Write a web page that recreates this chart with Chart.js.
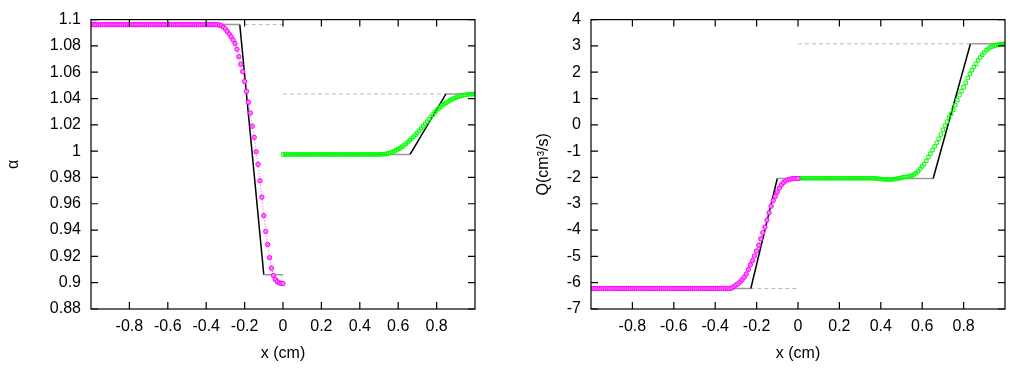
<!DOCTYPE html>
<html>
<head>
<meta charset="utf-8">
<script src="https://cdn.jsdelivr.net/npm/chart.js@4.4.0/dist/chart.umd.min.js"></script>
<style>
  body { margin: 0; background: #fff; }
  .box { position: absolute; top: 0; height: 369px; }
</style>
</head>
<body>
<div class="box" style="left:0;width:500px"><canvas id="alphaChart" width="500" height="369"></canvas></div>
<div class="box" style="left:500px;width:521px"><canvas id="qChart" width="521" height="369"></canvas></div>
<script>
// grid points (cm)
var xNeg = [
  -1.00, -0.99, -0.98, -0.97, -0.96, -0.95, -0.94, -0.93, -0.92, -0.91,
  -0.90, -0.89, -0.88, -0.87, -0.86, -0.85, -0.84, -0.83, -0.82, -0.81,
  -0.80, -0.79, -0.78, -0.77, -0.76, -0.75, -0.74, -0.73, -0.72, -0.71,
  -0.70, -0.69, -0.68, -0.67, -0.66, -0.65, -0.64, -0.63, -0.62, -0.61,
  -0.60, -0.59, -0.58, -0.57, -0.56, -0.55, -0.54, -0.53, -0.52, -0.51,
  -0.50, -0.49, -0.48, -0.47, -0.46, -0.45, -0.44, -0.43, -0.42, -0.41,
  -0.40, -0.39, -0.38, -0.37, -0.36, -0.35, -0.34, -0.33, -0.32, -0.31,
  -0.30, -0.29, -0.28, -0.27, -0.26, -0.25, -0.24, -0.23, -0.22, -0.21,
  -0.20, -0.19, -0.18, -0.17, -0.16, -0.15, -0.14, -0.13, -0.12, -0.11,
  -0.10, -0.09, -0.08, -0.07, -0.06, -0.05, -0.04, -0.03, -0.02, -0.01,
  0.00
];
var xPos = [
  0.00, 0.01, 0.02, 0.03, 0.04, 0.05, 0.06, 0.07, 0.08, 0.09,
  0.10, 0.11, 0.12, 0.13, 0.14, 0.15, 0.16, 0.17, 0.18, 0.19,
  0.20, 0.21, 0.22, 0.23, 0.24, 0.25, 0.26, 0.27, 0.28, 0.29,
  0.30, 0.31, 0.32, 0.33, 0.34, 0.35, 0.36, 0.37, 0.38, 0.39,
  0.40, 0.41, 0.42, 0.43, 0.44, 0.45, 0.46, 0.47, 0.48, 0.49,
  0.50, 0.51, 0.52, 0.53, 0.54, 0.55, 0.56, 0.57, 0.58, 0.59,
  0.60, 0.61, 0.62, 0.63, 0.64, 0.65, 0.66, 0.67, 0.68, 0.69,
  0.70, 0.71, 0.72, 0.73, 0.74, 0.75, 0.76, 0.77, 0.78, 0.79,
  0.80, 0.81, 0.82, 0.83, 0.84, 0.85, 0.86, 0.87, 0.88, 0.89,
  0.90, 0.91, 0.92, 0.93, 0.94, 0.95, 0.96, 0.97, 0.98, 0.99,
  1.00
];

// alpha, numerical (magenta x<0, green x>0)
var alphaNeg = [
  1.0962, 1.0962, 1.0962, 1.0962, 1.0962, 1.0962, 1.0962, 1.0962, 1.0962, 1.0962,
  1.0962, 1.0962, 1.0962, 1.0962, 1.0962, 1.0962, 1.0962, 1.0962, 1.0962, 1.0962,
  1.0962, 1.0962, 1.0962, 1.0962, 1.0962, 1.0962, 1.0962, 1.0962, 1.0962, 1.0962,
  1.0962, 1.0962, 1.0962, 1.0962, 1.0962, 1.0962, 1.0962, 1.0962, 1.0962, 1.0962,
  1.0962, 1.0962, 1.0962, 1.0962, 1.0962, 1.0962, 1.0962, 1.0962, 1.0962, 1.0962,
  1.0962, 1.0962, 1.0962, 1.0962, 1.0962, 1.0962, 1.0962, 1.0962, 1.0962, 1.0962,
  1.0962, 1.0962, 1.0962, 1.0962, 1.0962, 1.0962, 1.0961, 1.0958, 1.0952, 1.0942,
  1.0929, 1.0910, 1.0890, 1.0870, 1.0846, 1.0818, 1.0775, 1.0718, 1.0660, 1.0605,
  1.0530, 1.0455, 1.0372, 1.0290, 1.0190, 1.0105, 0.9995, 0.9900, 0.9775, 0.9650,
  0.9510, 0.9390, 0.9290, 0.9190, 0.9110, 0.9055, 0.9025, 0.9008, 0.8999, 0.8995,
  0.8993
];
var alphaPos = [
  0.9975, 0.9975, 0.9975, 0.9975, 0.9975, 0.9975, 0.9975, 0.9975, 0.9975, 0.9975,
  0.9975, 0.9975, 0.9975, 0.9975, 0.9975, 0.9975, 0.9975, 0.9975, 0.9975, 0.9975,
  0.9975, 0.9975, 0.9975, 0.9975, 0.9975, 0.9975, 0.9975, 0.9975, 0.9975, 0.9975,
  0.9975, 0.9975, 0.9975, 0.9975, 0.9975, 0.9975, 0.9975, 0.9975, 0.9975, 0.9975,
  0.9975, 0.9975, 0.9975, 0.9975, 0.9975, 0.9975, 0.9975, 0.9975, 0.9975, 0.9975,
  0.9975, 0.9976, 0.9977, 0.9978, 0.9980, 0.9983, 0.9988, 0.9993, 0.9999, 1.0007,
  1.0015, 1.0023, 1.0032, 1.0043, 1.0055, 1.0068, 1.0082, 1.0096, 1.0110, 1.0125,
  1.0140, 1.0155, 1.0172, 1.0189, 1.0206, 1.0224, 1.0242, 1.0260, 1.0278, 1.0294,
  1.0310, 1.0324, 1.0337, 1.0349, 1.0359, 1.0368, 1.0377, 1.0386, 1.0394, 1.0401,
  1.0407, 1.0413, 1.0418, 1.0422, 1.0425, 1.0428, 1.0430, 1.0432, 1.0433, 1.0434,
  1.0435
];

// Q (cm^3/s), numerical
var qNeg = [
  -6.22, -6.22, -6.22, -6.22, -6.22, -6.22, -6.22, -6.22, -6.22, -6.22,
  -6.22, -6.22, -6.22, -6.22, -6.22, -6.22, -6.22, -6.22, -6.22, -6.22,
  -6.22, -6.22, -6.22, -6.22, -6.22, -6.22, -6.22, -6.22, -6.22, -6.22,
  -6.22, -6.22, -6.22, -6.22, -6.22, -6.22, -6.22, -6.22, -6.22, -6.22,
  -6.22, -6.22, -6.22, -6.22, -6.22, -6.22, -6.22, -6.22, -6.22, -6.22,
  -6.22, -6.22, -6.22, -6.22, -6.22, -6.22, -6.22, -6.22, -6.22, -6.22,
  -6.22, -6.22, -6.22, -6.22, -6.22, -6.22, -6.22, -6.22, -6.20, -6.15,
  -6.09, -6.04, -5.97, -5.89, -5.79, -5.67, -5.50, -5.32, -5.16, -4.98,
  -4.79, -4.58, -4.33, -4.10, -3.89, -3.62, -3.34, -3.09, -2.88, -2.72,
  -2.56, -2.40, -2.28, -2.19, -2.13, -2.09, -2.07, -2.05, -2.04, -2.04,
  -2.04
];
var qPos = [
  -2.03, -2.03, -2.03, -2.03, -2.03, -2.03, -2.03, -2.03, -2.03, -2.03,
  -2.03, -2.03, -2.03, -2.03, -2.03, -2.03, -2.03, -2.03, -2.03, -2.03,
  -2.03, -2.03, -2.03, -2.03, -2.03, -2.03, -2.03, -2.03, -2.03, -2.03,
  -2.03, -2.03, -2.03, -2.03, -2.03, -2.03, -2.03, -2.03, -2.04, -2.05,
  -2.06, -2.07, -2.07, -2.08, -2.08, -2.08, -2.07, -2.06, -2.04, -2.03,
  -2.01, -1.99, -1.98, -1.97, -1.95, -1.93, -1.89, -1.84, -1.77, -1.68,
  -1.58, -1.49, -1.37, -1.23, -1.10, -0.96, -0.82, -0.68, -0.53, -0.37,
  -0.19, -0.03, 0.12, 0.28, 0.42, 0.57, 0.75, 0.94, 1.13, 1.28,
  1.43, 1.60, 1.78, 1.94, 2.08, 2.20, 2.32, 2.45, 2.56, 2.66,
  2.75, 2.84, 2.90, 2.95, 2.98, 3.01, 3.03, 3.05, 3.06, 3.07,
  3.08
];

// exact solution corners
var alphaExactNegX = [-1, -0.225, -0.10, 0];
var alphaExactNegY = [1.0962, 1.0962, 0.906, 0.906];
var alphaExactPosX = [0, 0.662, 0.849, 1];
var alphaExactPosY = [0.9975, 0.9975, 1.0435, 1.0435];
var qExactNegX = [-1, -0.228, -0.10, 0];
var qExactNegY = [-6.22, -6.22, -2.04, -2.04];
var qExactPosX = [0, 0.653, 0.833, 1];
var qExactPosY = [-2.04, -2.04, 3.08, 3.08];

// grey dashed levels
var alphaDashA = { x: [-0.2, 0], y: [1.0962, 1.0962] };
var alphaDashB = { x: [0, 0.85], y: [1.0435, 1.0435] };
var qDashA = { x: [-0.23, 0], y: [-6.22, -6.22] };
var qDashB = { x: [0, 0.83], y: [3.08, 3.08] };

// ticks
var xTicks = [-0.8, -0.6, -0.4, -0.2, 0, 0.2, 0.4, 0.6, 0.8];
var alphaTicks = [0.88, 0.9, 0.92, 0.94, 0.96, 0.98, 1, 1.02, 1.04, 1.06, 1.08, 1.1];
var qTicks = [-7, -6, -5, -4, -3, -2, -1, 0, 1, 2, 3, 4];

Chart.defaults.font.family = "'Liberation Sans', Arial, sans-serif";
Chart.defaults.font.size = 16;
Chart.defaults.color = "#000";

function pts(xs, ys) {
  return xs.map(function (x, i) { return { x: x, y: ys[i] }; });
}

// frame + gnuplot style inward mirror ticks
var frameTicks = {
  id: "frameTicks",
  afterDraw: function (chart) {
    var ctx = chart.ctx;
    var a = chart.chartArea;
    var sx = chart.scales.x, sy = chart.scales.y;
    ctx.save();
    ctx.strokeStyle = "#000";
    ctx.lineWidth = 1.2;
    ctx.strokeRect(a.left, a.top, a.right - a.left, a.bottom - a.top);
    ctx.beginPath();
    sx.ticks.forEach(function (t) {
      var p = sx.getPixelForValue(t.value);
      ctx.moveTo(p, a.bottom); ctx.lineTo(p, a.bottom - 7);
      ctx.moveTo(p, a.top); ctx.lineTo(p, a.top + 7);
    });
    sy.ticks.forEach(function (t) {
      var p = sy.getPixelForValue(t.value);
      ctx.moveTo(a.left, p); ctx.lineTo(a.left + 7, p);
      ctx.moveTo(a.right, p); ctx.lineTo(a.right - 7, p);
    });
    ctx.stroke();
    ctx.restore();
  }
};

function exactLine(xs, ys) {
  return {
    data: pts(xs, ys), showLine: true, pointRadius: 0, borderWidth: 1.5, order: 2,
    borderColor: "#000",
    segment: {
      borderColor: function (c) { return c.p0.parsed.y === c.p1.parsed.y ? "#999" : "#000"; }
    }
  };
}
function dashLine(d) {
  return {
    data: pts(d.x, d.y), showLine: true, pointRadius: 0, borderWidth: 1,
    borderColor: "#bbb", borderDash: [4, 3], order: 3
  };
}

function makeChart(id, o) {
  return new Chart(document.getElementById(id), {
    type: "scatter",
    data: {
      datasets: [
        {
          data: pts(xNeg, o.neg), showLine: true, borderColor: "rgba(255,0,255,0.7)",
          borderWidth: 1, borderDash: [1, 2], pointStyle: "circle", pointRadius: 2.2,
          pointBorderColor: "#ff00ff", pointBackgroundColor: "#ff77ff", pointBorderWidth: 1, order: 0
        },
        {
          data: pts(xPos, o.pos), showLine: false, pointStyle: "rect", pointRadius: 2.4,
          pointBorderColor: "#00ff00", pointBackgroundColor: "rgba(0,0,0,0)", pointBorderWidth: 1, order: 0
        },
        exactLine(o.exNegX, o.exNegY),
        exactLine(o.exPosX, o.exPosY),
        dashLine(o.dashA),
        dashLine(o.dashB)
      ]
    },
    options: {
      responsive: false,
      animation: false,
      layout: { padding: { top: 18, right: o.padRight, left: 0, bottom: 0 } },
      plugins: { legend: { display: false }, tooltip: { enabled: false } },
      scales: {
        x: {
          type: "linear", min: -1, max: 1,
          grid: { display: false, drawTicks: false }, border: { display: false },
          afterBuildTicks: function (s) { s.ticks = xTicks.map(function (v) { return { value: v }; }); },
          afterFit: function (s) { s.height = 60; },
          ticks: { padding: 8, maxRotation: 0, callback: function (v) { return String(+v.toFixed(2)); } },
          title: { display: true, text: "x (cm)", padding: { top: 0, bottom: 6 } }
        },
        y: {
          type: "linear", min: o.yMin, max: o.yMax,
          grid: { display: false, drawTicks: false }, border: { display: false },
          afterBuildTicks: function (s) { s.ticks = o.yTicks.map(function (v) { return { value: v }; }); },
          afterFit: function (s) { s.width = 91; },
          ticks: { padding: 10, callback: function (v) { return String(+v.toFixed(2)); } },
          title: { display: true, text: o.yTitle, padding: { top: o.titlePad, bottom: 0 } }
        }
      }
    },
    plugins: [frameTicks]
  });
}

makeChart("alphaChart", {
  neg: alphaNeg, pos: alphaPos,
  exNegX: alphaExactNegX, exNegY: alphaExactNegY, exPosX: alphaExactPosX, exPosY: alphaExactPosY,
  dashA: alphaDashA, dashB: alphaDashB,
  yMin: 0.88, yMax: 1.1, yTicks: alphaTicks, yTitle: "α", titlePad: 4, padRight: 25
});
makeChart("qChart", {
  neg: qNeg, pos: qPos,
  exNegX: qExactNegX, exNegY: qExactNegY, exPosX: qExactPosX, exPosY: qExactPosY,
  dashA: qDashA, dashB: qDashB,
  yMin: -7, yMax: 4, yTicks: qTicks, yTitle: "Q(cm³/s)", titlePad: 34, padRight: 16
});
</script>
</body>
</html>
